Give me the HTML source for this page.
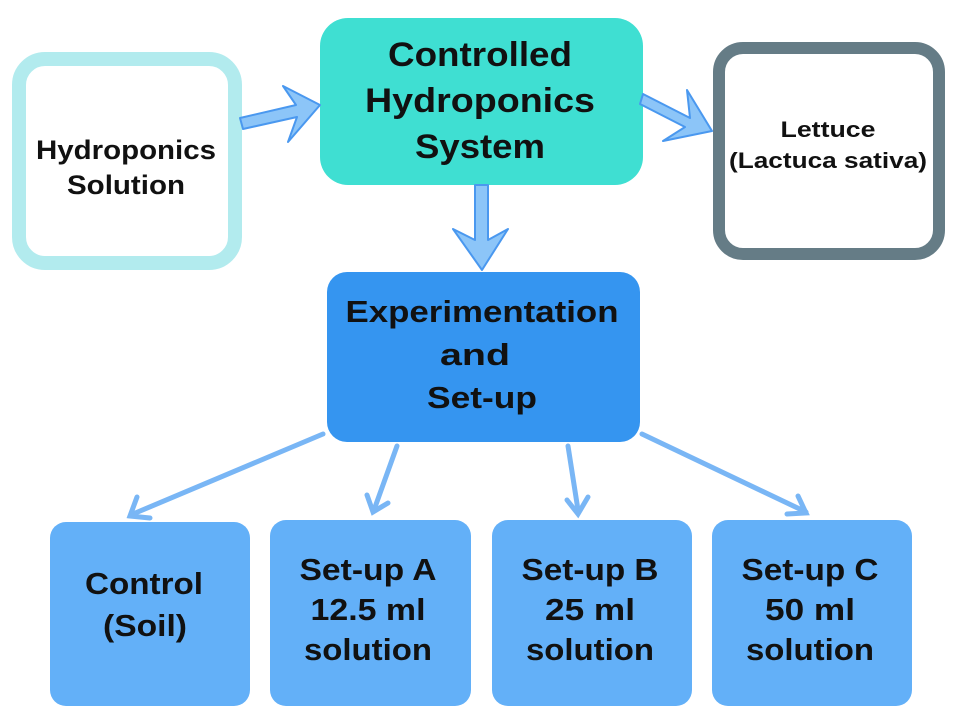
<!DOCTYPE html>
<html><head><meta charset="utf-8"><style>
body{margin:0;background:#fff;}
svg{display:block;}
text{font-family:"Liberation Sans",Arial,sans-serif;font-weight:bold;fill:#111;text-anchor:middle;}
</style></head><body>
<svg width="960" height="720" viewBox="0 0 960 720">
<rect width="960" height="720" fill="#fff"/>
<rect x="19" y="59" width="216" height="204" rx="26" fill="#fff" stroke="#b2ebee" stroke-width="14"/>
<text x="126" y="159" font-size="27" textLength="180" lengthAdjust="spacingAndGlyphs">Hydroponics</text>
<text x="126" y="194" font-size="27" textLength="118" lengthAdjust="spacingAndGlyphs">Solution</text>
<rect x="320" y="18" width="323" height="167" rx="28" fill="#3fdfd2"/>
<text x="480" y="66" font-size="34" textLength="184" lengthAdjust="spacingAndGlyphs">Controlled</text>
<text x="480" y="112" font-size="34" textLength="230" lengthAdjust="spacingAndGlyphs">Hydroponics</text>
<text x="480" y="158" font-size="34" textLength="130" lengthAdjust="spacingAndGlyphs">System</text>
<rect x="719" y="48" width="220" height="206" rx="24" fill="#fff" stroke="#657c86" stroke-width="12"/>
<text x="828" y="137" font-size="22" textLength="95" lengthAdjust="spacingAndGlyphs">Lettuce</text>
<text x="828" y="168" font-size="22" textLength="198" lengthAdjust="spacingAndGlyphs">(Lactuca sativa)</text>
<rect x="327" y="272" width="313" height="170" rx="20" fill="#3595f0"/>
<text x="482" y="322" font-size="31" textLength="273" lengthAdjust="spacingAndGlyphs">Experimentation</text>
<text x="475" y="365" font-size="31" textLength="70" lengthAdjust="spacingAndGlyphs">and</text>
<text x="482" y="408" font-size="31" textLength="110" lengthAdjust="spacingAndGlyphs">Set-up</text>
<g fill="#63b0f8">
<rect x="50" y="522" width="200" height="184" rx="16"/>
<rect x="270" y="520" width="201" height="186" rx="16"/>
<rect x="492" y="520" width="200" height="186" rx="16"/>
<rect x="712" y="520" width="200" height="186" rx="16"/>
</g>
<text x="144" y="594" font-size="31" textLength="118" lengthAdjust="spacingAndGlyphs">Control</text>
<text x="145" y="636" font-size="31" textLength="84" lengthAdjust="spacingAndGlyphs">(Soil)</text>
<text x="368" y="580" font-size="31" textLength="137" lengthAdjust="spacingAndGlyphs">Set-up A</text>
<text x="368" y="620" font-size="31" textLength="115" lengthAdjust="spacingAndGlyphs">12.5 ml</text>
<text x="368" y="660" font-size="31" textLength="128" lengthAdjust="spacingAndGlyphs">solution</text>
<text x="590" y="580" font-size="31" textLength="137" lengthAdjust="spacingAndGlyphs">Set-up B</text>
<text x="590" y="620" font-size="31" textLength="90" lengthAdjust="spacingAndGlyphs">25 ml</text>
<text x="590" y="660" font-size="31" textLength="128" lengthAdjust="spacingAndGlyphs">solution</text>
<text x="810" y="580" font-size="31" textLength="137" lengthAdjust="spacingAndGlyphs">Set-up C</text>
<text x="810" y="620" font-size="31" textLength="90" lengthAdjust="spacingAndGlyphs">50 ml</text>
<text x="810" y="660" font-size="31" textLength="128" lengthAdjust="spacingAndGlyphs">solution</text>
<g fill="#8cc5f8" stroke="#4a98ef" stroke-width="2" stroke-linejoin="round">
<polygon points="240,118 296,105 283,86 320,105 288,142 297,117 243,129"/>
<polygon points="643,94 690,118 687,90 712,131 663,141 685,127 640,104"/>
<polygon points="475,185 488,185 488,240 508,229 482,270 453,229 475,240"/>
</g>
<g stroke="#79b6f5" stroke-width="5" fill="none" stroke-linecap="round">
<line x1="323" y1="434" x2="133" y2="514"/>
<polyline points="137,497 130,516 150,518"/>
<line x1="397" y1="446" x2="374" y2="510"/>
<polyline points="367,495 373,512 388,503"/>
<line x1="568" y1="446" x2="578" y2="510"/>
<polyline points="567,500 578,514 588,497"/>
<line x1="642" y1="434" x2="806" y2="512"/>
<polyline points="787,514 806,513 798,496"/>
</g>
</svg>
</body></html>
